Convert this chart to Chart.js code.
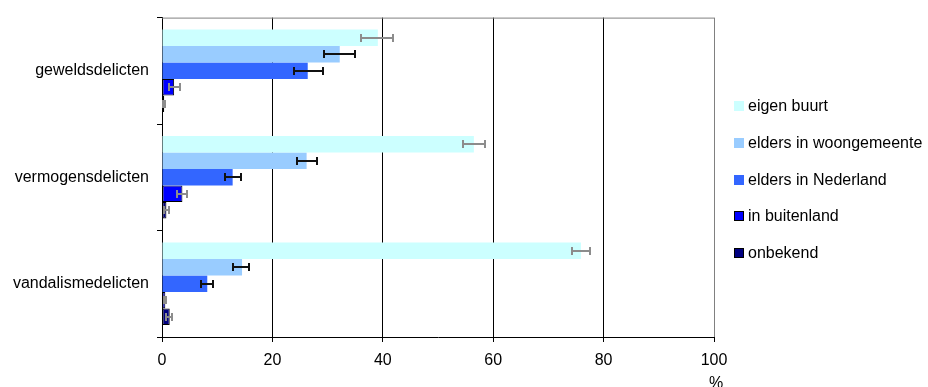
<!DOCTYPE html>
<html>
<head>
<meta charset="utf-8">
<script src="https://cdn.jsdelivr.net/npm/chart.js@4/dist/chart.umd.min.js"></script>
<style>
  html, body { margin: 0; padding: 0; background: #fff; }
  #wrap { position: relative; width: 928px; height: 387px; }
  #legend { position: absolute; left: 734px; top: 98px; font: 16px "Liberation Sans", Arial, sans-serif; color: #000; }
  .item { display: flex; align-items: center; height: 16px; margin-bottom: 20.8px; white-space: nowrap; }
  .box { width: 10px; height: 10px; box-sizing: border-box; margin-right: 4px; }
</style>
</head>
<body>
<div id="wrap">
  <canvas id="chart" width="928" height="387"></canvas>
  <div id="legend"></div>
</div>
<script>
const categories = ['geweldsdelicten', 'vermogensdelicten', 'vandalismedelicten'];
const seriesNames = ['eigen buurt', 'elders in woongemeente', 'elders in Nederland', 'in buitenland', 'onbekend'];

const eigenBuurt = [39.1, 56.5, 75.9];
const eldersWoongemeente = [32.2, 26.2, 14.5];
const eldersNederland = [26.4, 12.8, 8.2];
const inBuitenland = [2.2, 3.7, 0.6];
const onbekend = [0.4, 0.8, 1.4];

// error bar ranges [low, high]
const eigenBuurtErr = [[36.1, 41.9], [54.5, 58.5], [74.2, 77.5]];
const eldersWoongemeenteErr = [[29.3, 35.0], [24.5, 28.1], [12.9, 15.8]];
const eldersNederlandErr = [[23.9, 29.1], [11.4, 14.3], [7.0, 9.2]];
const inBuitenlandErr = [[1.3, 3.2], [2.7, 4.6], [0.3, 0.8]];
const onbekendErr = [[0.1, 0.6], [0.4, 1.2], [0.7, 1.9]];

const xTicks = [0, 20, 40, 60, 80, 100];
const axisUnit = '%';

const fills = ['#CCFFFF', '#99CCFF', '#3366FF', '#0000FF', '#000080'];
const outlines = [0, 0, 0, 1, 1];
const errColors = ['#8c8c8c', '#111', '#111', '#8c8c8c', '#8c8c8c'];

const values = [eigenBuurt, eldersWoongemeente, eldersNederland, inBuitenland, onbekend];
const errors = [eigenBuurtErr, eldersWoongemeenteErr, eldersNederlandErr, inBuitenlandErr, onbekendErr];

Chart.defaults.font.family = '"Liberation Sans", Arial, sans-serif';
Chart.defaults.font.size = 16;
Chart.defaults.color = '#000';

const errorBars = {
  id: 'errorBars',
  afterDatasetsDraw(chart) {
    const ctx = chart.ctx;
    const x = chart.scales.x;
    chart.data.datasets.forEach((ds, i) => {
      const meta = chart.getDatasetMeta(i);
      ctx.save();
      ctx.strokeStyle = errColors[i];
      ctx.lineWidth = 2;
      meta.data.forEach((bar, j) => {
        const [lo, hi] = ds.errors[j];
        const x1 = Math.round(x.getPixelForValue(lo));
        const x2 = Math.round(x.getPixelForValue(hi));
        const y = Math.round(bar.y);
        ctx.beginPath();
        ctx.moveTo(x1, y); ctx.lineTo(x2, y);
        ctx.moveTo(x1, y - 4); ctx.lineTo(x1, y + 4);
        ctx.moveTo(x2, y - 4); ctx.lineTo(x2, y + 4);
        ctx.stroke();
      });
      ctx.restore();
    });
  }
};

const frame = {
  id: 'frame',
  afterDraw(chart) {
    const ctx = chart.ctx;
    const a = chart.chartArea;
    const x = chart.scales.x;
    ctx.save();
    ctx.strokeStyle = '#808080';
    ctx.lineWidth = 1;
    ctx.beginPath();
    ctx.moveTo(a.left, a.top + 0.5);
    ctx.lineTo(a.right, a.top + 0.5);
    ctx.stroke();
    ctx.fillStyle = '#000';
    ctx.font = '16px "Liberation Sans", Arial, sans-serif';
    ctx.textAlign = 'center';
    ctx.textBaseline = 'alphabetic';
    ctx.fillText(axisUnit, x.getPixelForValue(100) + 2, 388);
    ctx.restore();
  }
};

new Chart(document.getElementById('chart'), {
  type: 'bar',
  data: {
    labels: categories,
    datasets: seriesNames.map((name, i) => ({
      label: name,
      data: values[i],
      errors: errors[i],
      backgroundColor: fills[i],
      borderColor: '#000',
      borderWidth: outlines[i],
      borderSkipped: false,
      categoryPercentage: 0.775,
      barPercentage: 1
    }))
  },
  options: {
    indexAxis: 'y',
    responsive: false,
    animation: false,
    layout: { padding: { left: 12, right: 214, top: 14, bottom: 0 } },
    plugins: { legend: { display: false }, tooltip: { enabled: false } },
    scales: {
      x: {
        min: 0,
        max: 100,
        afterBuildTicks: s => { s.ticks = xTicks.map(v => ({ value: v })); },
        afterFit: s => { s.height = 50; },
        ticks: { padding: 9 },
        border: { display: true, color: '#000', width: 1 },
        grid: {
          color: c => (c.tick && c.tick.value === 100 ? '#808080' : '#000'),
          tickColor: '#000',
          tickLength: 5,
          lineWidth: 1
        }
      },
      y: {
        afterFit: s => { s.width = 150; },
        ticks: { padding: 8 },
        border: { display: true, color: '#000', width: 1 },
        grid: {
          drawOnChartArea: false,
          offset: true,
          tickLength: 5,
          color: '#000'
        }
      }
    }
  },
  plugins: [errorBars, frame]
});

const legend = document.getElementById('legend');
seriesNames.forEach((name, i) => {
  const item = document.createElement('div');
  item.className = 'item';
  const box = document.createElement('span');
  box.className = 'box';
  box.style.background = fills[i];
  if (outlines[i]) box.style.border = '1px solid #000';
  item.appendChild(box);
  item.appendChild(document.createTextNode(name));
  legend.appendChild(item);
});
</script>
</body>
</html>
